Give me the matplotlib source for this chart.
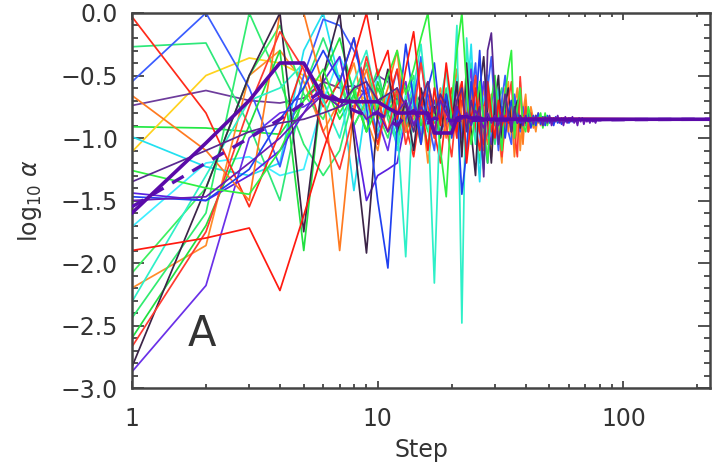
import matplotlib
matplotlib.use("Agg")
import matplotlib.pyplot as plt
from matplotlib.ticker import MultipleLocator, LogLocator, NullFormatter

# log10(alpha) per step; each run lists steps 1..n, then settles to final_value
final_step = 225
final_value = -0.85

red_a = [-0.03, -0.80, -1.55, -0.95, -0.40, -0.75, -0.55, -0.20, -0.65, -1.05, -0.70, -0.45, -0.90,
         -1.15, -0.75, -0.55, -0.95, -1.20, -0.80, -0.60, -1.00, -0.70, -0.85, -0.55, -0.90, -1.10,
         -0.75, -0.65, -0.95, -0.80, -0.90, -0.78, -0.88, -0.83, -0.87, -0.85]
red_b = [-1.90, -1.80, -1.72, -2.22, -1.62, -1.10, -0.70, -0.35, 0.00, -0.50, -0.30, -0.85, -0.45,
         -0.15, -0.70, -1.10, -0.60, -0.90, -0.40, -0.75, -0.95, -0.55, -1.20, -0.85, -0.60, -0.95,
         -1.05, -0.55, -0.80, -1.00, -0.70, -0.90, -0.82, -0.88, -0.84]
red_c = [-2.67, -1.75, -0.75, -0.15, -0.45, -0.95, -1.25, -0.80, -0.35, -0.70, -0.95, -0.60, -1.05,
         -0.80, -0.40, -0.75, -1.00, -0.65, -0.90, -1.15, -0.70, -0.55, -0.90, -0.75, -0.50, -0.80,
         -1.10, -0.95, -0.70, -0.60, -0.85, -1.15, -0.90, -0.70, -0.55, -0.95, -1.15, -0.51, -0.90,
         -0.75, -0.95, -0.80, -0.88, -0.84, -0.86]
orange_a = [-0.66, -1.10, -1.50, 0.00, 0.00, -0.60, -1.90, -0.75, -0.45, -0.85, -0.60, -0.30, -0.95,
            -0.75, -1.05, -0.55, -0.80, -0.65, -1.00, -0.70, -0.45, -0.85, -1.10, -0.70, -0.55, -0.95,
            -0.75, -1.05, -0.65, -0.90, -0.70, -1.00, -0.60, -0.95, -0.75, -1.15, -0.85, -0.55, -1.05,
            -0.70, -0.95, -0.80, -0.92, -0.82, -0.88, -0.84, -0.86]
orange_b = [-2.20, -1.86, -0.50, -0.30, -0.55, -0.95, -0.70, -0.40, -0.85, -1.10, -0.65, -0.80, -0.55,
            -0.95, -0.70, -1.20, -0.80, -0.60, -0.90, -0.75, -1.00, -0.65, -0.85, -0.70, -0.95, -0.80,
            -0.60, -0.90, -1.15, -0.65, -0.95, -1.20, -0.70, -0.55, -1.00, -0.75, -0.60, -1.10, -0.80,
            -0.65, -0.95, -0.75, -0.85, -0.95, -0.80, -0.90, -0.83, -0.87, -0.85]
yellow = [-1.11, -0.50, -0.36, -0.40, -0.50, -0.55, -0.60, -0.62, -0.70, -0.75, -0.72, -0.80, -0.78,
          -0.85, -0.80, -0.88, -0.83, -0.86]
green_a = [-0.27, -0.24, -0.90, -1.50, -0.60, -0.20, -0.55, -0.90, -0.70, -0.45, -0.85, -1.05, -0.70,
           -0.50, -0.90, -0.75, -1.00, -0.80, -0.60, -0.95, -0.55, -1.10, -0.65, -0.40, -0.95, -1.20,
           -0.75, -0.50, -0.85, -1.05, -0.70, -0.60, -0.95, -0.80, -0.70, -0.92, -0.82, -0.87, -0.85]
green_b = [-0.91, -0.92, -0.95, -0.97, -0.70, -0.55, -0.85, -0.65, -0.95, -0.60, -0.80, -1.00, -0.70,
           -0.90, -0.75, -0.95, -0.85, -0.80, -0.88, -0.84, -0.86]
green_c = [-1.26, -1.40, -1.45, -1.10, -0.70, -0.45, -0.80, -0.60, -0.95, -0.75, -0.50, -0.30, -0.65,
           -0.45, -0.20, 0.00, -0.55, -1.10, -1.47, -0.70, -0.30, 0.00, -0.60, -1.05, -0.80, -0.55,
           -0.90, -1.20, -0.70, -0.50, -0.85, -1.10, -0.65, -0.45, -0.30, -1.00, -0.75, -0.60, -0.90,
           -0.95, -0.75, -0.85, -0.90, -0.82, -0.87, -0.80, -0.92, -0.80, -0.90, -0.83, -0.88, -0.84,
           -0.86]
green_d = [-2.08, -1.40, -0.50, -0.10, -0.65, -0.85, -0.50, -0.90, -0.70, -1.00, -0.75, -0.60, -0.95,
           -0.80, -1.05, -0.70, -0.85, -0.65, -0.90, -0.78, -0.88, -0.84, -0.86]
green_e = [-2.44, -1.60, 0.00, -0.55, -1.05, -1.30, -1.10, -0.65, -0.40, -0.80, -1.00, -0.70, -0.90,
           -0.60, -0.85, -1.05, -0.75, -0.95, -0.80, -0.70, -0.90, -0.82, -0.88, -0.85]
green_f = [-2.60, -1.70, -0.90, -0.30, -1.90, -0.50, -0.20, -0.65, -0.95, -0.55, -0.80, -0.65, -0.95,
           -0.75, -0.90, -0.80, -0.88, -0.84, -0.86]
cyan_a = [-0.99, -1.23, -1.30, -1.20, -0.30, 0.00, -0.55, -1.42, -0.70, -0.95, -0.65, -1.10, -0.80,
          -0.55, -0.95, -0.70, -0.85, -1.00, -0.75, -0.90, -0.45, -1.05, -0.75, -0.25, -0.90, -1.35,
          -0.70, -0.50, -1.00, -0.80, -0.60, -0.95, -0.75, -0.88, -0.82, -0.87, -0.85]
cyan_b = [-1.71, -1.20, -1.15, -1.30, -1.25, -0.70, -0.35, -0.60, -0.85, -0.50, -0.75, -0.95, -0.65,
          -0.80, -0.70, -0.90, -0.80, -0.86]
aqua = [-2.31, -1.30, -0.70, -0.60, -0.40, -0.70, -1.00, -0.55, -0.30, -0.75, -0.50, -0.90, -1.95,
        -0.60, -0.25, -0.80, -2.16, -0.70, -0.45, -0.90, -0.10, -2.48, -0.20, -0.75, -1.05, -0.60,
        -0.85, -1.00, -0.70, -0.90, -0.80, -0.88, -0.84, -0.86]
blue_a = [-0.55, 0.00, -0.60, -1.23, -0.50, -0.05, -0.10, -0.30, -0.55, -1.00, -0.75, -0.45, -0.95,
          -0.70, -0.35, -0.85, -1.10, -0.65, -0.90, -0.75, -0.55, -0.95, -0.80, -0.70, -0.40, -0.95,
          -1.25, -0.60, -0.35, -0.80, -1.10, -0.70, -0.50, -0.95, -1.05, -0.65, -0.80, -0.95, -0.75,
          -0.90, -0.82, -0.88, -0.85]
blue_b = [-1.47, -1.50, -1.25, -0.85, -0.60, -0.30, -0.55, -0.20, -0.75, -1.50, -2.04, -0.90, -0.25,
          -0.70, -1.05, -0.60, -0.40, -0.85, -0.65, -1.00, -0.75, -1.45, -1.10, -0.55, -0.80, -0.30,
          -0.95, -1.20, -0.70, -0.55, -0.90, -0.75, -1.00, -0.80, -0.70, -0.88, -0.80, -0.88, -0.84,
          -0.86, -0.80, -0.92, -0.82, -0.90, -0.80, -0.89, -0.83, -0.90, -0.82, -0.88, -0.84, -0.90,
          -0.83, -0.88, -0.85, -0.89, -0.84, -0.87, -0.85, -0.88, -0.84, -0.87, -0.85]
violet_a = [-1.44, -1.50, -1.30, -1.10, -0.80, -0.55, -0.35, -0.90, -1.50, -1.30, -1.25, -1.20, -0.85,
            -0.65, -1.00, -0.80, -0.70, -0.95, -0.85, -0.80, -0.88, -0.84, -0.86]
violet_b = [-2.87, -2.18, -1.00, -0.80, -0.75, -0.65, -0.70, -0.75, -0.60, -0.85, -1.10, -0.70, -0.55,
            -0.90, -0.75, -0.65, -0.95, -0.80, -0.70, -0.90, -0.60, -1.00, -0.70, -0.45, -0.95, -0.75,
            -0.55, -0.90, -1.05, -0.70, -0.80, -0.95, -0.78, -0.90, -0.82, -0.88, -0.85]
purple_a = [-0.74, -0.62, -0.70, -0.72, -0.68, -0.55, -0.60, -0.58, -0.65, -0.50, -0.55, -0.70, -0.60,
            -0.75, -0.65, -0.85, -0.70, -0.80, -0.75, -0.90, -0.80, -0.88, -0.84, -0.86]
purple_b = [-1.35, -1.10, -0.95, -0.88, -0.85, -0.80, -0.75, -0.60, -0.55, -0.70, -0.65, -0.60, -0.75,
            -0.95, -0.70, -0.55, -0.80, -0.65, -0.75, -0.90, -0.70, -0.60, -0.95, -0.70, -0.85, -0.75,
            -1.31, -0.30, -0.16, -0.70, -1.05, -0.85, -0.65, -0.80, -0.95, -0.75, -0.88, -0.82, -0.86]
purple_c = [-1.50, -1.47, -1.20, -1.00, -0.80, -0.65, -0.75, -0.70, -0.85, -0.78, -0.95, -0.80, -0.70,
            -0.90, -0.75, -0.85, -0.95, -0.70, -0.80, -0.90, -0.75, -0.85, -0.80, -0.90, -0.78, -0.85,
            -0.92, -0.80, -0.88, -0.82, -0.90, -0.80, -0.87, -0.83, -0.90, -0.81, -0.88, -0.84, -0.90,
            -0.82, -0.87, -0.84, -0.89, -0.82, -0.87, -0.85, -0.90, -0.83, -0.88, -0.82, -0.90, -0.84,
            -0.87, -0.82, -0.88, -0.84, -0.90, -0.83, -0.88, -0.84, -0.87, -0.83, -0.88, -0.85, -0.90,
            -0.84, -0.87, -0.84, -0.89, -0.85, -0.87, -0.85, -0.88, -0.85, -0.87, -0.86, -0.88, -0.85,
            -0.86]
dark_a = [-2.83, -1.40, -0.50, 0.00, -1.75, -0.50, 0.00, -1.00, -1.92, -0.80, -0.45, -0.95, -0.70,
          -1.10, -0.60, -0.85, -0.75, -1.00, -0.65, -0.90, -0.55, -1.15, -0.40, -0.95, -1.30, -0.60,
          -0.35, -0.85, -1.20, -0.70, -0.50, -1.00, -0.75, -0.60, -0.95, -0.80, -0.70, -0.92, -0.82,
          -0.88, -0.85]

thick_mean = [-1.60, -1.04, -0.70, -0.40, -0.40, -0.67, -0.70, -0.71, -0.71, -0.71, -0.76, -0.80,
              -0.80, -0.80, -0.80, -0.80, -0.96, -0.96, -0.96, -0.96, -0.84, -0.83, -0.83, -0.84,
              -0.84, -0.84, -0.85, -0.85]
dashed_mean = [-1.55, -1.20, -1.00, -0.85, -0.72, -0.62, -0.70, -0.78, -0.82, -0.80, -0.85, -0.90,
               -0.82, -0.78, -0.86, -0.88, -0.84, -0.86]

runs = [
    (green_b, '#22e844'), (yellow, '#ffd21e'), (cyan_b, '#40eeff'), (purple_a, '#6e3c9c'),
    (green_a, '#2ee87a'), (orange_b, '#ff8c2a'), (green_d, '#3cf060'), (cyan_a, '#22e0f0'),
    (violet_b, '#6a30e8'), (green_e, '#30ec70'), (blue_a, '#3a5cff'), (green_f, '#20e040'),
    (red_a, '#ff2a1a'), (violet_a, '#5a20e0'), (orange_a, '#ff7a20'), (aqua, '#2ef0c8'),
    (dark_a, '#3c2448'), (red_c, '#ff3a30'), (blue_b, '#2040f0'), (green_c, '#30f040'),
    (red_b, '#ff1a10'), (purple_b, '#5a2890'), (purple_c, '#6a1ab4'),
]


def steps_for(vals):
    return list(range(1, len(vals) + 1)) + [final_step]


fig = plt.figure(figsize=(7.15, 4.71), dpi=100)
ax = fig.add_axes([0.1846, 0.1762, 0.8084, 0.7962])

for vals, col in runs:
    ax.plot(steps_for(vals), vals + [final_value], color=col, lw=1.25, zorder=2)

ax.plot(steps_for(dashed_mean), dashed_mean + [final_value], color='#5a10b0', lw=2.4,
        ls=(0, (4, 3)), zorder=3)
ax.plot(steps_for(thick_mean), thick_mean + [final_value], color='#5a0aa8', lw=2.6, zorder=4)

ax.set_xscale('log')
ax.set_xlim(1, final_step)
ax.set_ylim(-3.0, 0.0)

ax.set_xticks([1, 10, 100], labels=['1', '10', '100'])
ax.xaxis.set_minor_locator(LogLocator(base=10, subs=range(2, 10)))
ax.xaxis.set_minor_formatter(NullFormatter())
ax.yaxis.set_major_locator(MultipleLocator(0.5))
ax.yaxis.set_minor_locator(MultipleLocator(0.1))

txt = '#333333'
for s in ax.spines.values():
    s.set_color('#444444')
    s.set_linewidth(1.8)
ax.tick_params(which='both', direction='in', top=True, right=True, colors='#444444',
               labelcolor=txt, labelsize=17, width=1.3)
ax.tick_params(axis='y', which='major', length=8.5, pad=10)
ax.tick_params(axis='y', which='minor', length=4.3)
ax.tick_params(axis='x', which='major', length=5, pad=14)
ax.tick_params(axis='x', which='minor', length=3)

ax.set_xlabel('Step', fontsize=17, color=txt, labelpad=5)
ax.set_ylabel(r'log$_{10}$ $\alpha$', fontsize=17, color=txt, labelpad=12)
ax.text(0.121, 0.144, 'A', transform=ax.transAxes, fontsize=30, color=txt,
        ha='center', va='center')

fig.savefig('out.png', dpi=100)
